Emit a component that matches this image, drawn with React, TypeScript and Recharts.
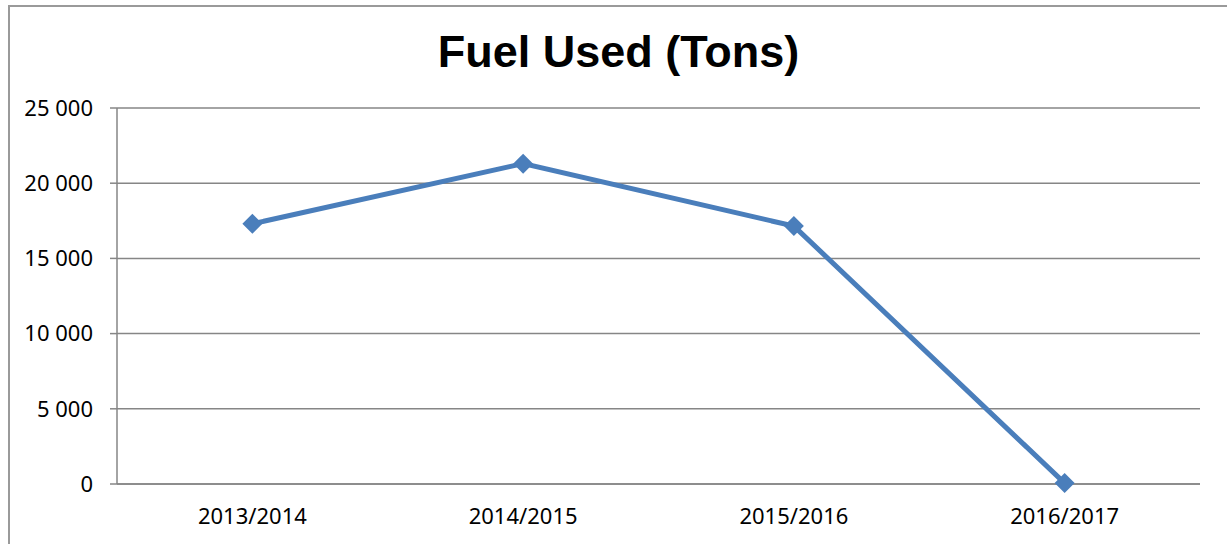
import React from 'react'
import { LineChart, Line, XAxis, YAxis, CartesianGrid } from 'recharts'

const years = ['2013/2014', '2014/2015', '2015/2016', '2016/2017']
const fuelTons = [17300, 21300, 17150, 60]
const yTicks = [0, 5000, 10000, 15000, 20000, 25000]
const boundaryTicks = [0, 1, 2, 3, 4]

const data = years.map((year, i) => ({ year, fuel: fuelTons[i] }))

const GRID = '#868686'
const BLUE = '#4A7EBB'
const LABEL_FONT = { fill: '#000', fontSize: 22, fontFamily: '"Noto Sans", sans-serif' }

const fmt = (v: number) =>
  String(v).replace(/\B(?=(\d{3})+(?!\d))/g, ' ')

const Diamond = (props: any) => {
  const { cx, cy } = props
  if (cx == null || cy == null) return null
  const r = 10
  return (
    <polygon
      points={`${cx},${cy - r} ${cx + r},${cy} ${cx},${cy + r} ${cx - r},${cy}`}
      fill={BLUE}
    />
  )
}

export default function App() {
  return (
    <div
      style={{
        position: 'fixed',
        left: 8,
        top: 5,
        width: 1240,
        height: 560,
        borderLeft: '2px solid #9a9a9a',
        borderTop: '2px solid #9a9a9a',
        background: '#fff',
      }}
    >
      <div
        style={{
          position: 'absolute',
          left: 0,
          top: 22,
          width: 1217,
          textAlign: 'center',
          fontFamily: '"Liberation Sans", Arial, sans-serif',
          fontWeight: 'bold',
          fontSize: 45,
          lineHeight: '45px',
        }}
      >
        Fuel Used (Tons)
      </div>
      <LineChart
        width={1217}
        height={537}
        data={data}
        margin={{ top: 101, right: 27, left: 47, bottom: 30 }}
      >
        <CartesianGrid vertical={false} stroke={GRID} strokeWidth={1.5} />
        <XAxis
          xAxisId="marks"
          type="number"
          domain={[0, 4]}
          ticks={boundaryTicks}
          allowDataOverflow
          height={0}
          tick={false}
          tickSize={7}
          axisLine={false}
          tickLine={{ stroke: GRID, strokeWidth: 1.5 }}
        />
        <XAxis
          dataKey="year"
          scale="band"
          height={30}
          tickSize={0}
          tickMargin={24}
          axisLine={{ stroke: GRID, strokeWidth: 1.5 }}
          tickLine={false}
          tick={LABEL_FONT}
        />
        <YAxis
          domain={[0, 25000]}
          ticks={yTicks}
          width={60}
          tickSize={7}
          tickMargin={17}
          tickFormatter={fmt}
          axisLine={{ stroke: GRID, strokeWidth: 1.5 }}
          tickLine={{ stroke: GRID, strokeWidth: 1.5 }}
          tick={LABEL_FONT}
        />
        <Line
          dataKey="fuel"
          stroke={BLUE}
          strokeWidth={5}
          dot={<Diamond />}
          activeDot={false}
          isAnimationActive={false}
        />
      </LineChart>
    </div>
  )
}
